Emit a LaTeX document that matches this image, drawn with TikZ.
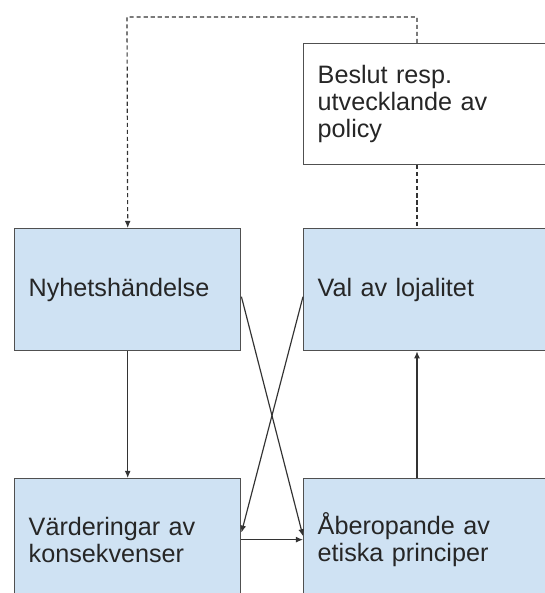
\documentclass[tikz,border=0pt]{standalone}
\usepackage{fontspec}
\setmainfont{Liberation Sans}
\usepackage{xcolor}
\usepackage{tikz}
\usetikzlibrary{calc,positioning,arrows.meta}
\definecolor{boxBlue}{HTML}{CFE2F3}
\definecolor{lineGray}{HTML}{505050}
\definecolor{arrowGray}{HTML}{333333}
\definecolor{textDark}{HTML}{262626}

\begin{document}
\begin{tikzpicture}[
  x=0.03cm, y=-0.03cm,
  every node/.style={font=\fontsize{21.5}{23}\selectfont, text=textDark},
  box/.style={
    draw=lineGray, line width=1.1pt, anchor=north west,
    minimum height=3.66cm, inner xsep=12pt, align=left,
  },
  boxL/.style={box, fill=boxBlue, text width=5.94cm},
  boxR/.style={box, fill=boxBlue, text width=7.3cm},
  policybox/.style={box, fill=white, minimum height=3.63cm, text width=7.3cm},
  arr/.style={-{Latex[length=6pt,width=5pt]}, line width=1pt, arrowGray},
  loopline/.style={arr, dash pattern=on 3.5pt off 2.5pt},
]

% Frame (picture is cut at the right and bottom edges)
\clip (0,0) rectangle (545,593);

% Boxes
\node[policybox] (pol) at (303,43) {Beslut resp.\\utvecklande av\\policy};
\node[boxL] (nyh) at (14,228) {Nyhetshändelse};
\node[boxR] (val) at (303,228) {Val av lojalitet};
\node[boxL] (vard) at (14,478) {Värderingar av\\konsekvenser};
\node[boxR] (abe) at (303,478) {Åberopande av\\etiska principer};

% Helper coordinates
\coordinate (rx) at (417,0);
\coordinate (loop) at (127,17);

% Feedback loop from policy
\draw[loopline] (pol.north -| rx) |- (loop) -- (nyh.north);
\draw[arrowGray, line width=1pt, dash pattern=on 3.5pt off 2.5pt] (pol.south -| rx) -- (val.north -| rx);

% Arrows
\draw[arr] (nyh.south) -- (vard.north);
\draw[arr] (abe.north -| rx) -- (val.south -| rx);
\draw[arr] (vard.east) -- (abe.west);
\draw[arr] ([yshift=-6pt]nyh.east) -- ([yshift=3pt]abe.west);
\draw[arr] ([yshift=-6pt]val.west) -- ([yshift=6pt]vard.east);

\end{tikzpicture}
\end{document}
